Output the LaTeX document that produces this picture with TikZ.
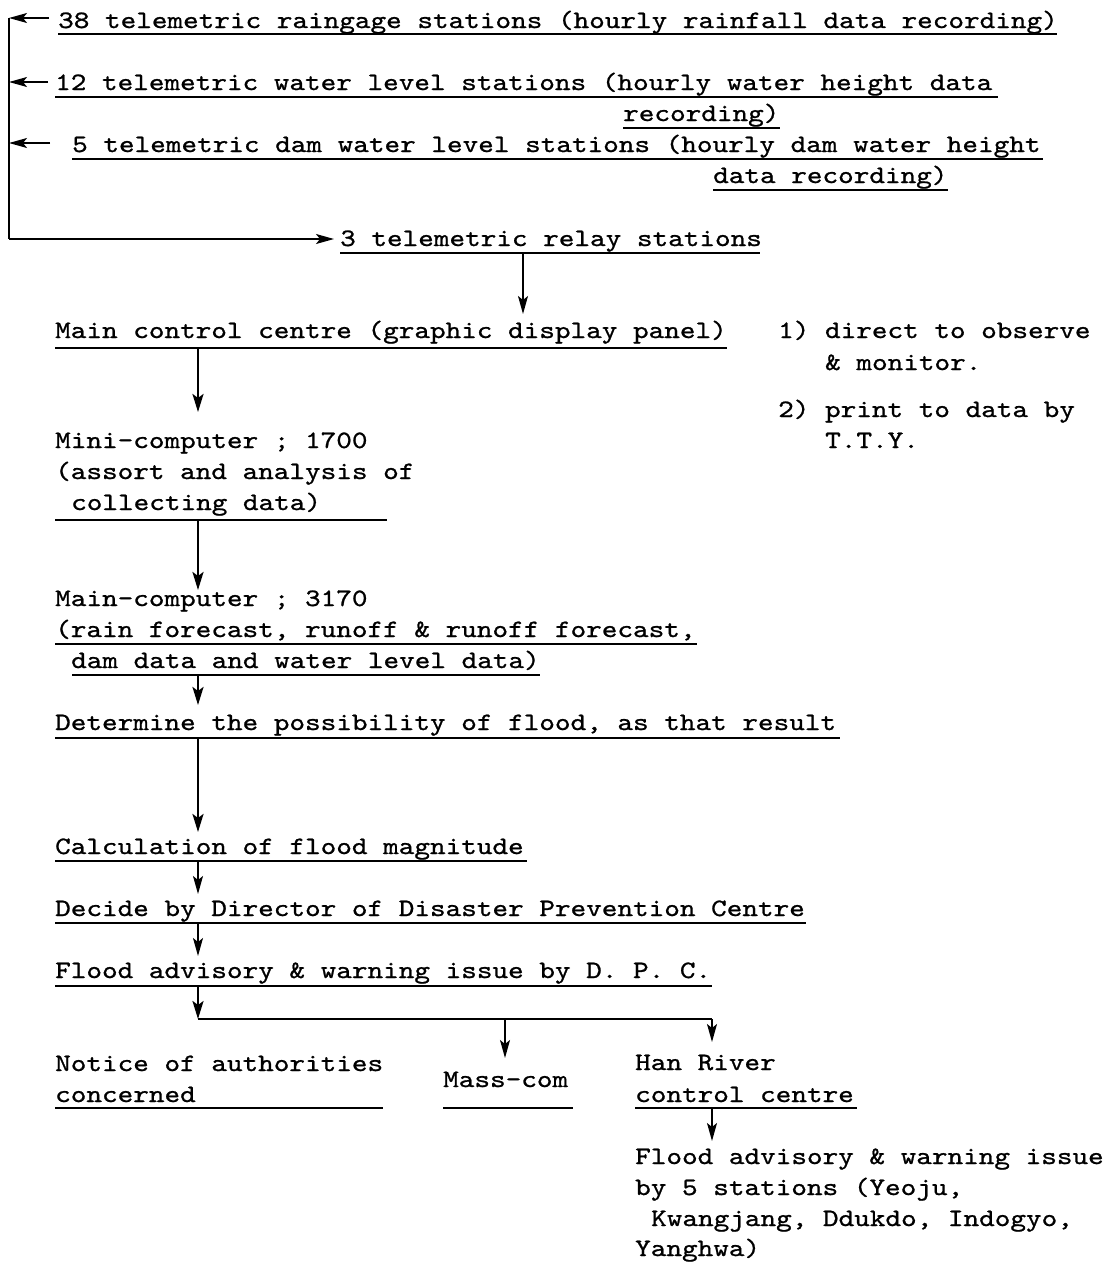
\documentclass[tikz,border=0pt]{standalone}
\usepackage{fontspec}
\newfontfamily\tw[Extension=.otf, FakeStretch=1.19, FakeBold=0.9]{lmmono10-regular}
\usetikzlibrary{arrows.meta}
\begin{document}
\begin{tikzpicture}[x=1pt,y=-1pt,
  txt/.style={anchor=base west, inner sep=0pt, font=\tw\fontsize{25}{31}\selectfont, text=black},
  ul/.style={line width=1.5pt, black},
  arr/.style={line width=1.5pt, -{Stealth[length=18pt,width=10pt,inset=4pt]}},
  thick arr/.style={line width=2.4pt, -{Stealth[length=18pt,width=11pt,inset=4pt]}},
  ln/.style={line width=1.6pt}]
\useasboundingbox[fill=white] (0,0) rectangle (1114,1262);
% texts
\node[txt] (t1) at (58,28) {38 telemetric raingage stations (hourly rainfall data recording)};
\node[txt] (t2a) at (55,90) {12 telemetric water level stations (hourly water height data};
\node[txt] (t2b) at (623,121) {recording)};
\node[txt] (t3a) at (72,152) {5 telemetric dam water level stations (hourly dam water height};
\node[txt] (t3b) at (713,183) {data recording)};
\node[txt] (relay) at (340,246) {3 telemetric relay stations};
\node[txt] (main) at (55,338) {Main control centre (graphic display panel)};
\node[txt] (n1) at (778,338) {1) direct to observe};
\node[txt] (n1b) at (825,370) {\& monitor.};
\node[txt] (n2) at (778,417) {2) print to data by};
\node[txt] (n2b) at (825,448) {T.T.Y.};
\node[txt] (mini1) at (55,448) {Mini-computer ; 1700};
\node[txt] (mini2) at (55,479) {(assort and analysis of};
\node[txt] (mini3) at (71,510) {collecting data)};
\node[txt] (mc1) at (55,606) {Main-computer ; 3170};
\node[txt] (mc2) at (55,637) {(rain forecast, runoff \& runoff forecast,};
\node[txt] (mc3) at (71,668) {dam data and water level data)};
\node[txt] (det) at (55,730) {Determine the possibility of flood, as that result};
\node[txt] (calc) at (55,854) {Calculation of flood magnitude};
\node[txt] (decide) at (55,916) {Decide by Director of Disaster Prevention Centre};
\node[txt] (flood) at (55,978) {Flood advisory \& warning issue by D. P. C.};
\node[txt] (not1) at (55,1071) {Notice of authorities};
\node[txt] (not2) at (55,1102) {concerned};
\node[txt] (mass) at (443,1087) {Mass-com};
\node[txt] (han1) at (635,1070) {Han River};
\node[txt] (han2) at (635,1102) {control centre};
\node[txt] (f1) at (635,1164) {Flood advisory \& warning issue};
\node[txt] (f2) at (635,1195) {by 5 stations (Yeoju,};
\node[txt] (f3) at (651,1226) {Kwangjang, Ddukdo, Indogyo,};
\node[txt] (f4) at (635,1256) {Yanghwa)};
% underlines
\draw[ul] (58,34) -- (1057,34);
\draw[ul] (55,97) -- (998,97);
\draw[ul] (623,128) -- (780,128);
\draw[ul] (72,159) -- (1043,159);
\draw[ul] (713,190) -- (948,190);
\draw[ul] (340,253) -- (760,253);
\draw[ul] (55,348) -- (727,348);
\draw[ul] (55,520) -- (387,520);
\draw[ul] (55,644) -- (697,644);
\draw[ul] (72,675) -- (540,675);
\draw[ul] (55,738) -- (840,738);
\draw[ul] (55,861) -- (527,861);
\draw[ul] (55,923) -- (806,923);
\draw[ul] (55,986) -- (712,986);
\draw[ul] (55,1108) -- (383,1108);
\draw[ul] (443,1108) -- (573,1108);
\draw[ul] (635,1108) -- (857,1108);
% connector anchor points
\coordinate (bx1) at (9,18);
\coordinate (bx2) at (9,82);
\coordinate (bx3) at (9,143);
\coordinate (bxb) at (9,239);
\coordinate (relayU) at (523,253);
\coordinate (mainT) at (523,314);
\coordinate (mainU) at (198,348);
\coordinate (miniT) at (198,412);
\coordinate (miniU) at (198,520);
\coordinate (mcT) at (198,590);
\coordinate (mcU) at (198,675);
\coordinate (detT) at (198,705);
\coordinate (detU) at (198,738);
\coordinate (calcT) at (198,832);
\coordinate (calcU) at (198,861);
\coordinate (decT) at (198,894);
\coordinate (decU) at (198,923);
\coordinate (floT) at (198,956);
\coordinate (floU) at (198,986);
\coordinate (brL) at (198,1019);
\coordinate (brM) at (505,1019);
\coordinate (brR) at (712,1019);
\coordinate (massT) at (505,1058);
\coordinate (hanT) at (712,1042);
\coordinate (hanU) at (712,1108);
\coordinate (fT) at (712,1141);
% bracket on the left
\draw[ln] (bx1) -- (bxb);
\draw[arr] (t1.west |- bx1) ++(-9,0) -- (bx1);
\draw[arr] (t2a.west |- bx2) ++(-7,0) -- (bx2);
\draw[arr] (t3a.west |- bx3) ++(-22,0) -- (bx3);
\draw[arr] (bxb) -- ([xshift=-6pt]relay.west |- bxb);
% main chain
\draw[arr] (relayU) -- (mainT);
\draw[thick arr] (mainU) -- (miniT);
\draw[thick arr] (miniU) -- (mcT);
\draw[thick arr] (mcU) -- (detT);
\draw[thick arr] (detU) -- (calcT);
\draw[arr] (calcU) -- (decT);
\draw[arr] (decU) -- (floT);
\draw[thick arr] (floU) -- (brL);
\draw[ln] (brL) -- (brR);
\draw[arr] (brM) -- (massT);
\draw[arr] (brR) -- (hanT);
\draw[arr] (hanU) -- (fT);
\end{tikzpicture}
\end{document}
